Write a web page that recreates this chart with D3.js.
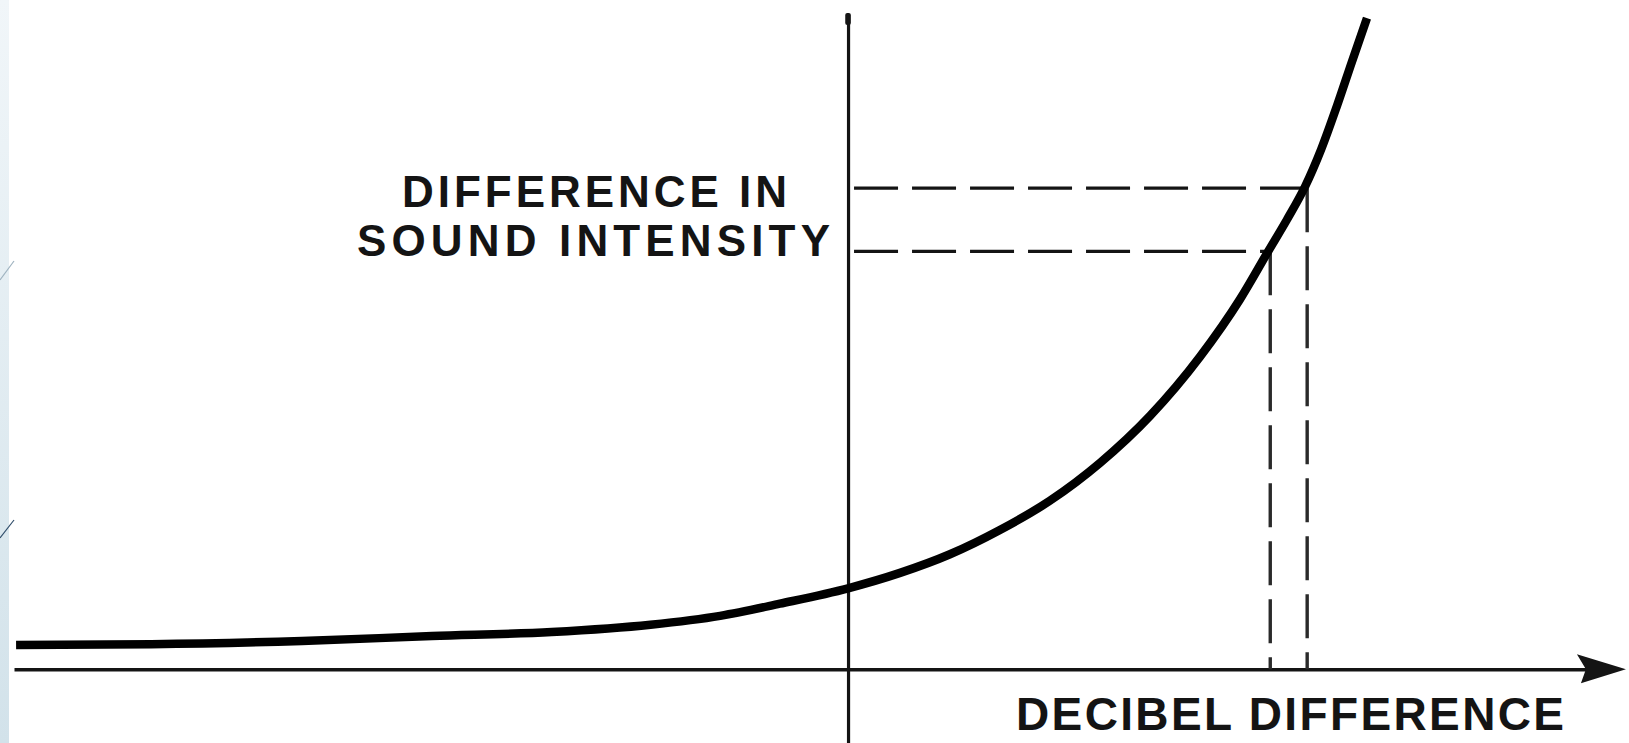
<!DOCTYPE html>
<html>
<head>
<meta charset="utf-8">
<script src="https://cdn.jsdelivr.net/npm/d3@7"></script>
<style>
  html, body { margin: 0; padding: 0; background: #ffffff; }
  svg { display: block; }
</style>
</head>
<body>
<svg id="chart" width="1629" height="743"></svg>
<script>
// ---- data (arbitrary units: dB difference vs. intensity) ----
const decibels  = [-16, -13.4, -10.5, -8, -5.7, -3.8, -2.46, -1.31, 0, 1, 1.96, 2.92, 3.88, 4.85, 5.81, 6.77, 7.54, 8.08, 8.44, 8.79, 9.1, 9.4, 9.69, 9.98];
const intensity = [0.30, 0.31, 0.35, 0.41, 0.46, 0.55, 0.66, 0.81, 1.0, 1.19, 1.42, 1.72, 2.08, 2.55, 3.13, 3.86, 4.57, 5.16, 5.55, 5.96, 6.42, 6.95, 7.50, 8.04];
const markDecibels  = [8.12, 8.83];
const markIntensity = [5.16, 5.94];
const yLabelLines = ["DIFFERENCE IN", "SOUND INTENSITY"];
const xLabel = "DECIBEL DIFFERENCE";
const xExtent = [-16.04, 14.5];
const yExtent = [-0.91, 8.09];

// ---- drawing ----
const W = 1629, H = 743;
const svg = d3.select("#chart");
const ink = "#141414";

const x = d3.scaleLinear().domain(xExtent).range([14, 1602]);
const y = d3.scaleLinear().domain(yExtent).range([743, 14]);

// left decorative strip
const defs = svg.append("defs");
const g = defs.append("linearGradient").attr("id", "strip").attr("x1", 0).attr("y1", 0).attr("x2", 0).attr("y2", 1);
g.append("stop").attr("offset", "0%").attr("stop-color", "#f1f6f9");
g.append("stop").attr("offset", "100%").attr("stop-color", "#d2e2ea");
svg.append("rect").attr("x", 0).attr("y", 0).attr("width", 9).attr("height", H).attr("fill", "url(#strip)");
svg.append("line").attr("x1", 0).attr("y1", 280).attr("x2", 14).attr("y2", 261)
  .attr("stroke", "#9fb3c0").attr("stroke-width", 1.2);
svg.append("line").attr("x1", 0).attr("y1", 538).attr("x2", 14).attr("y2", 520)
  .attr("stroke", "#2f4d6a").attr("stroke-width", 1.2);

// axes (no ticks)
const xAxis = d3.axisBottom(x).ticks(0).tickSizeOuter(0);
const yAxis = d3.axisLeft(y).ticks(0).tickSizeOuter(0);
const gx = svg.append("g").attr("transform", `translate(0,${y(0)})`).call(xAxis);
gx.select(".domain").attr("stroke", ink).attr("stroke-width", 3.6);
const gy = svg.append("g").attr("transform", `translate(${x(0)},0)`).call(yAxis);
gy.select(".domain").attr("stroke", ink).attr("stroke-width", 3.2);
// blob at the top of the vertical axis
svg.append("rect").attr("x", x(0) - 2.8).attr("y", y(yExtent[1]) - 1).attr("width", 5.6).attr("height", 12)
  .attr("rx", 2).attr("fill", ink);

// arrow head at the right end of the x axis
const tipX = x(14.96), ay = y(0);
svg.append("path")
  .attr("d", `M${tipX},${ay} L${tipX - 49},${ay - 15} L${tipX - 40},${ay} L${tipX - 45},${ay + 14} Z`)
  .attr("fill", ink);

// dashed reference lines
const dash = "44,14";
markDecibels.forEach((d, i) => {
  const yi = markIntensity[i];
  svg.append("line")
    .attr("x1", x(0) + 6).attr("x2", x(d) - 1)
    .attr("y1", y(yi)).attr("y2", y(yi))
    .attr("stroke", ink).attr("stroke-width", 3.4)
    .attr("stroke-dasharray", dash);
  svg.append("line")
    .attr("x1", x(d)).attr("x2", x(d))
    .attr("y1", y(yi)).attr("y2", y(0))
    .attr("stroke", "#2a2a2a").attr("stroke-width", 3.4)
    .attr("stroke-dasharray", dash);
});

// curve
const pts = decibels.map((d, i) => [d, intensity[i]]);
const line = d3.line().x(d => x(d[0])).y(d => y(d[1])).curve(d3.curveMonotoneX);
svg.append("path").datum(pts).attr("d", line)
  .attr("fill", "none").attr("stroke", "#000").attr("stroke-width", 8.5)
  .attr("stroke-linecap", "butt");

// labels
const font = "'Liberation Sans', Arial, sans-serif";
svg.append("text").attr("x", 402).attr("y", 207).attr("textLength", 385).attr("lengthAdjust", "spacing")
  .attr("font-family", font).attr("font-weight", "bold").attr("font-size", 44).attr("fill", ink)
  .text(yLabelLines[0]);
svg.append("text").attr("x", 357).attr("y", 256).attr("textLength", 473).attr("lengthAdjust", "spacing")
  .attr("font-family", font).attr("font-weight", "bold").attr("font-size", 44).attr("fill", ink)
  .text(yLabelLines[1]);
svg.append("text").attr("x", 1016).attr("y", 730).attr("textLength", 548).attr("lengthAdjust", "spacing")
  .attr("font-family", font).attr("font-weight", "bold").attr("font-size", 46).attr("fill", ink)
  .text(xLabel);
</script>
</body>
</html>
